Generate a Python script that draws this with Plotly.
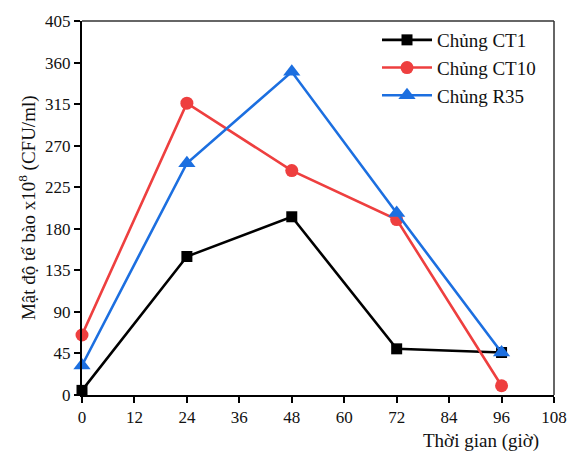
import plotly.graph_objects as go

hours = [0, 24, 48, 72, 96]
ct1 = [5, 150, 193, 50, 46]
ct10 = [65, 316, 243, 190, 10]
r35 = [32, 251, 350, 197, 46]

x_ticks = [0, 12, 24, 36, 48, 60, 72, 84, 96, 108]
y_ticks = [0, 45, 90, 135, 180, 225, 270, 315, 360, 405]

FONT = "Liberation Serif, Times New Roman, serif"

fig = go.Figure()
series = [
    ("Chủng CT1", ct1, "#000000", "square", 11),
    ("Chủng CT10", ct10, "#EE3F3F", "circle", 13),
    ("Chủng R35", r35, "#1C6FE0", "triangle-up", 15),
]
for name, vals, col, sym, sz in series:
    fig.add_trace(go.Scatter(
        x=hours, y=vals, name=name, mode="lines+markers",
        line=dict(color=col, width=2.6),
        marker=dict(symbol=sym, size=sz, color=col),
        cliponaxis=False,
    ))

fig.update_layout(
    width=579, height=454,
    margin=dict(l=82, r=24, t=15, b=59),
    paper_bgcolor="white", plot_bgcolor="white",
    font=dict(family=FONT, size=17, color="#111111"),
    showlegend=True,
    legend=dict(x=0.625, y=1.0, xanchor="left", yanchor="top",
                bgcolor="rgba(0,0,0,0)", font=dict(size=19, family=FONT),
                tracegroupgap=0, itemwidth=50),
    xaxis=dict(range=[0, 108], tickvals=x_ticks, ticktext=[str(v) for v in x_ticks],
               showgrid=False, zeroline=False, showline=True, linecolor="black", linewidth=2,
               ticks="outside", ticklen=6, tickwidth=1.5, tickcolor="black",
               tickfont=dict(size=17, family=FONT)),
    yaxis=dict(range=[0, 405], tickvals=y_ticks, ticktext=[str(v) for v in y_ticks],
               showgrid=False, zeroline=False, showline=True, linecolor="black", linewidth=2,
               ticks="outside", ticklen=6, tickwidth=1.5, tickcolor="black",
               tickfont=dict(size=17, family=FONT)),
    shapes=[
        dict(type="line", xref="paper", yref="paper", x0=0, x1=1, y0=1, y1=1,
             line=dict(color="#333333", width=1.5)),
        dict(type="line", xref="paper", yref="paper", x0=1, x1=1, y0=0, y1=1,
             line=dict(color="#333333", width=1.5)),
    ],
    annotations=[
        dict(text="Thời gian (giờ)", xref="paper", yref="paper", x=0.9725, y=-0.124,
             xanchor="right", yanchor="middle", showarrow=False, font=dict(size=19, family=FONT)),
        dict(text="Mật độ tế bào x10<sup>8</sup> (CFU/ml)", xref="paper", yref="paper",
             x=-0.1163, y=0.5, xanchor="center", yanchor="middle", textangle=-90,
             showarrow=False, font=dict(size=19, family=FONT)),
    ],
)

fig.write_html("out.html", config={"displayModeBar": False},
               post_script="document.body.style.margin='0';document.body.style.padding='0';")
